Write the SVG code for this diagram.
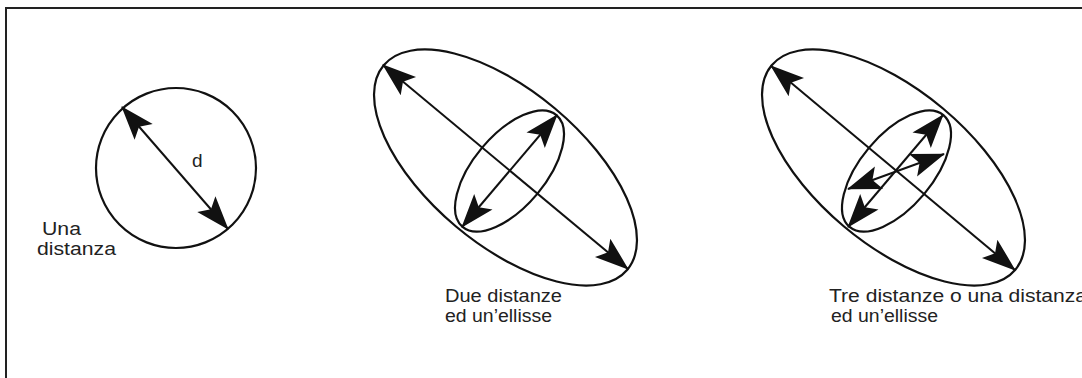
<svg xmlns="http://www.w3.org/2000/svg" width="1082" height="378" viewBox="0 0 1082 378">
  <style>
    .shape { fill: none; stroke: #111; stroke-width: 2.2; }
    .conn { stroke: #111; stroke-width: 2; fill: none; marker-start: url(#ah); marker-end: url(#ah); }
    .lbl { font-family: "Liberation Sans", Arial, sans-serif; font-size: 17.5px; fill: #222; }
  </style>
  <defs>
    <marker id="ah" markerUnits="userSpaceOnUse" viewBox="-36 -14 38 28" refX="0" refY="0" markerWidth="38" markerHeight="28" orient="auto-start-reverse">
      <path d="M1,0 L-33,-12 L-26,0 L-33,12 Z" fill="#111"/>
    </marker>
  </defs>
  <rect x="6" y="8" width="1090" height="380" fill="#fff" stroke="#222" stroke-width="2"/>

  <g id="node-circle">
    <circle class="shape" cx="176" cy="168" r="80"/>
    <text class="lbl" x="192" y="167" style="font-size:19px">d</text>
    <text class="lbl" x="42" y="235" textLength="39" lengthAdjust="spacingAndGlyphs">Una</text>
    <text class="lbl" x="37" y="255" textLength="79" lengthAdjust="spacingAndGlyphs">distanza</text>
  </g>

  <g id="node-ellipse2">
    <ellipse class="shape" cx="505.5" cy="167.5" rx="159" ry="77" transform="rotate(40 505.5 167.5)"/>
    <ellipse class="shape" cx="509.5" cy="171" rx="73" ry="36" transform="rotate(-50 509.5 171)"/>
    <text class="lbl" x="445" y="302" textLength="117" lengthAdjust="spacingAndGlyphs">Due distanze</text>
    <text class="lbl" x="445" y="322" textLength="107" lengthAdjust="spacingAndGlyphs">ed un’ellisse</text>
  </g>

  <g id="node-ellipse3">
    <ellipse class="shape" cx="893.5" cy="167.5" rx="159" ry="77" transform="rotate(40 893.5 167.5)"/>
    <ellipse class="shape" cx="896.5" cy="171" rx="73" ry="36" transform="rotate(-50 896.5 171)"/>
    <text class="lbl" x="829" y="302" textLength="258" lengthAdjust="spacingAndGlyphs">Tre distanze o una distanza</text>
    <text class="lbl" x="831" y="322" textLength="107" lengthAdjust="spacingAndGlyphs">ed un’ellisse</text>
  </g>

  <g id="connectors">
    <line class="conn" x1="122" y1="107" x2="228" y2="229"/>
    <line class="conn" x1="383" y1="65" x2="628" y2="269"/>
    <line class="conn" x1="557" y1="115" x2="462" y2="227"/>
    <line class="conn" x1="771" y1="66" x2="1015" y2="270"/>
    <line class="conn" x1="943" y1="115" x2="848" y2="227"/>
    <line class="conn" x1="944" y1="154" x2="848" y2="189"/>
  </g>
</svg>
